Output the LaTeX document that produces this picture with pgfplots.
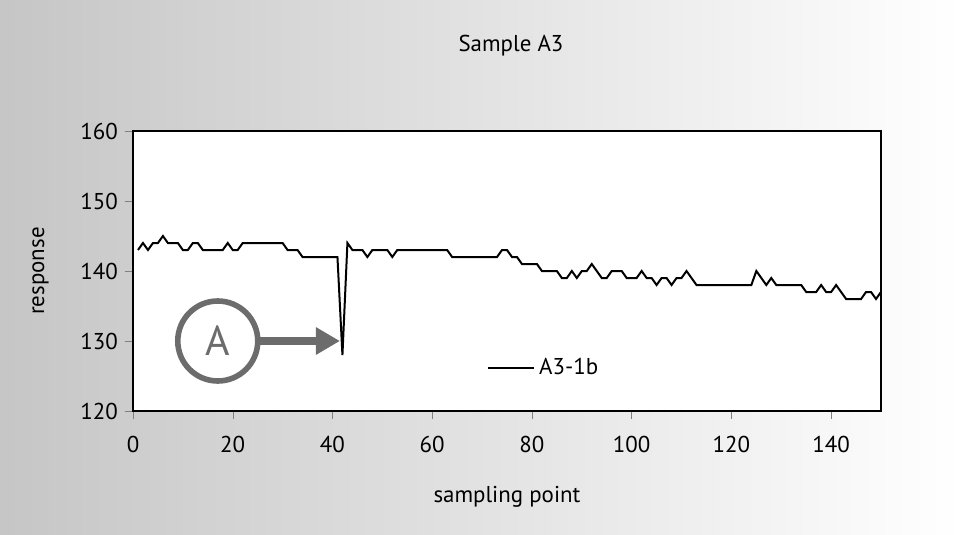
\documentclass[border=0pt]{standalone}
\usepackage{pgfplots}
\pgfplotsset{compat=1.18}
\usepackage{fontspec}
\setmainfont{PT Sans}
\usetikzlibrary{arrows.meta,backgrounds}

\begin{document}
\begin{tikzpicture}[font=\fontsize{11.5}{14}\selectfont]
\begin{axis}[
    scale only axis,
    width=374bp, height=140bp,
    xmin=0, xmax=150, ymin=120, ymax=160,
    xtick={0,20,...,140}, ytick={120,130,...,160},
    tick align=outside,
    xtick pos=bottom, ytick pos=left,
    major tick length=4bp,
    /pgf/number format/assume math mode=true,
    axis background/.style={fill=white},
    axis line style={black, line width=0.8bp},
    xticklabel style={yshift=-5bp},
    xlabel={sampling point}, ylabel={response},
    xlabel style={yshift=-10bp},
    ylabel style={yshift=9bp},
    title={Sample A3},
    title style={yshift=28bp, xshift=2bp},
    legend style={draw=none, fill=none, at={(0.465,0.154)}, anchor=west,
        legend cell align=left},
    legend image code/.code={\draw[#1] (0cm,0cm) -- (23bp,0cm);},
]
\addplot[black, line width=1bp] coordinates {
(1,143) (2,144) (3,143) (4,144) (5,144) (6,145) (7,144) (8,144) (9,144) (10,143)
(11,143) (12,144) (13,144) (14,143) (15,143) (16,143) (17,143) (18,143) (19,144) (20,143)
(21,143) (22,144) (23,144) (24,144) (25,144) (26,144) (27,144) (28,144) (29,144) (30,144)
(31,143) (32,143) (33,143) (34,142) (35,142) (36,142) (37,142) (38,142) (39,142) (40,142)
(41,142) (42,128) (43,144) (44,143) (45,143) (46,143) (47,142) (48,143) (49,143) (50,143)
(51,143) (52,142) (53,143) (54,143) (55,143) (56,143) (57,143) (58,143) (59,143) (60,143)
(61,143) (62,143) (63,143) (64,142) (65,142) (66,142) (67,142) (68,142) (69,142) (70,142)
(71,142) (72,142) (73,142) (74,143) (75,143) (76,142) (77,142) (78,141) (79,141) (80,141)
(81,141) (82,140) (83,140) (84,140) (85,140) (86,139) (87,139) (88,140) (89,139) (90,140)
(91,140) (92,141) (93,140) (94,139) (95,139) (96,140) (97,140) (98,140) (99,139) (100,139)
(101,139) (102,140) (103,139) (104,139) (105,138) (106,139) (107,139) (108,138) (109,139) (110,139)
(111,140) (112,139) (113,138) (114,138) (115,138) (116,138) (117,138) (118,138) (119,138) (120,138)
(121,138) (122,138) (123,138) (124,138) (125,140) (126,139) (127,138) (128,139) (129,138) (130,138)
(131,138) (132,138) (133,138) (134,138) (135,137) (136,137) (137,137) (138,138) (139,137) (140,137)
(141,138) (142,137) (143,136) (144,136) (145,136) (146,136) (147,137) (148,137) (149,136) (150,137)
};
\addlegendentry{A3-1b}
% annotation "A"
\draw[gray!85!black, line width=2.8bp, fill=white] (axis cs:17,130) circle[radius=20bp];
\node[text=gray!85!black, font=\fontsize{21}{24}\selectfont] at (axis cs:17,130) {A};
\draw[gray!85!black, line width=4bp, -{Triangle[length=12bp, width=13bp]}]
    (axis cs:25.5,130) -- (axis cs:41.5,130);
\end{axis}
\begin{pgfonlayer}{background}
\shade[left color=gray!45, right color=white, shading angle=90]
    ([shift={(-66.5bp,-62bp)}]current axis.south west)
    rectangle ([shift={(40bp,65.5bp)}]current axis.north east);
\end{pgfonlayer}
\end{tikzpicture}
\end{document}
